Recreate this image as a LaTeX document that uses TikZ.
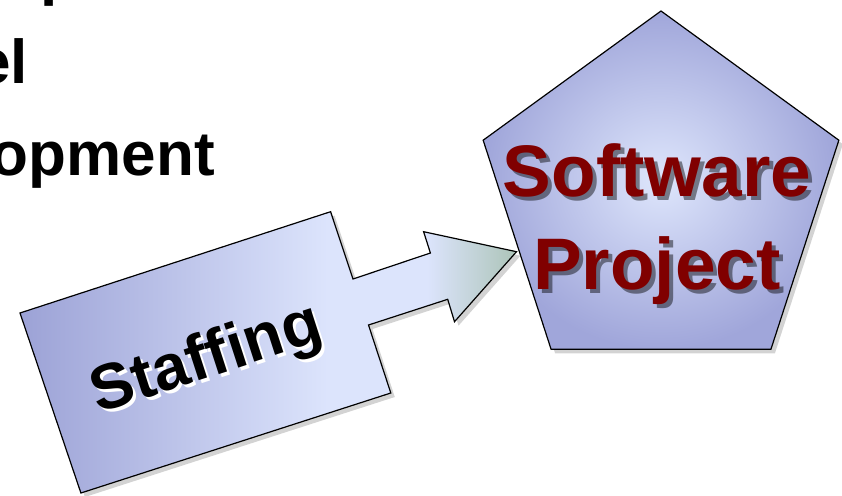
\documentclass[tikz,border=0pt]{standalone}
\usepackage{fontspec}
\setmainfont{Liberation Sans}
\usetikzlibrary{shapes.geometric,shadows}

\definecolor{staffLeft}{RGB}{156,162,214}
\definecolor{staffLight}{RGB}{220,228,252}
\definecolor{staffTip}{RGB}{172,196,184}
\definecolor{pentOut}{RGB}{160,166,218}
\definecolor{pentIn}{RGB}{222,230,252}
\definecolor{darkred}{RGB}{128,0,0}

\pgfdeclarehorizontalshading{staffshade}{100bp}{color(0bp)=(staffLeft); color(25bp)=(staffLeft);
  color(56bp)=(staffLight); color(66bp)=(staffLight); color(75bp)=(staffTip); color(100bp)=(staffTip)}

\begin{document}
\begin{tikzpicture}[x=1pt, y=-1pt,
bigtext/.style={font=\fontsize{62}{74}\selectfont\bfseries, inner sep=0pt},
penta/.style={regular polygon, regular polygon sides=5, minimum size=374pt, inner sep=0pt, draw=black, line width=1.2pt, inner color=pentIn, outer color=pentOut, drop shadow={shadow xshift=4pt, shadow yshift=-4pt, opacity=.35}},
blockarrow/.style={draw=black, line width=1.2pt, shading=staffshade, drop shadow={shadow xshift=4pt, shadow yshift=-4pt, opacity=.35}},
projtext/.style={font=\fontsize{73}{93}\selectfont\bfseries, align=center, inner sep=0pt},
stafftext/.style={font=\fontsize{64}{74}\selectfont\bfseries, inner sep=0pt, rotate=18},
]
\useasboundingbox (0,0) rectangle (842,495);
\clip (0,0) rectangle (842,495);

% cut-off title lines on the left
\node (line0) [bigtext, anchor=base west] at (40,-6) {p};
\node (line1) [bigtext, anchor=base east] at (28,83) {el};
\node (line2) [bigtext, anchor=base east] at (215,175) {opment};

% software project
\node (project) [penta] at (661,198) {};
\node (projshadow) [projtext, text=black, opacity=.45] at (661,228) {Software\\Project};
\node (projlabel) [projtext, text=darkred] at (657,224.5) {Software\\Project};

% staffing block with arrow
\path[blockarrow] (20,313) -- (330.6,211.7) -- (353,279) -- (430.4,253) -- (423.6,231.7)
  -- (516.5,251.7) -- (454.5,321.7) -- (447.7,299.3) -- (368.5,325) -- (390.8,393)
  -- (80.9,493) -- cycle;
\node (staffglow) [stafftext, text=white] at (210,364) {Staffing};
\node (staffing) [stafftext, text=black] at (207,361) {Staffing};

\end{tikzpicture}
\end{document}
